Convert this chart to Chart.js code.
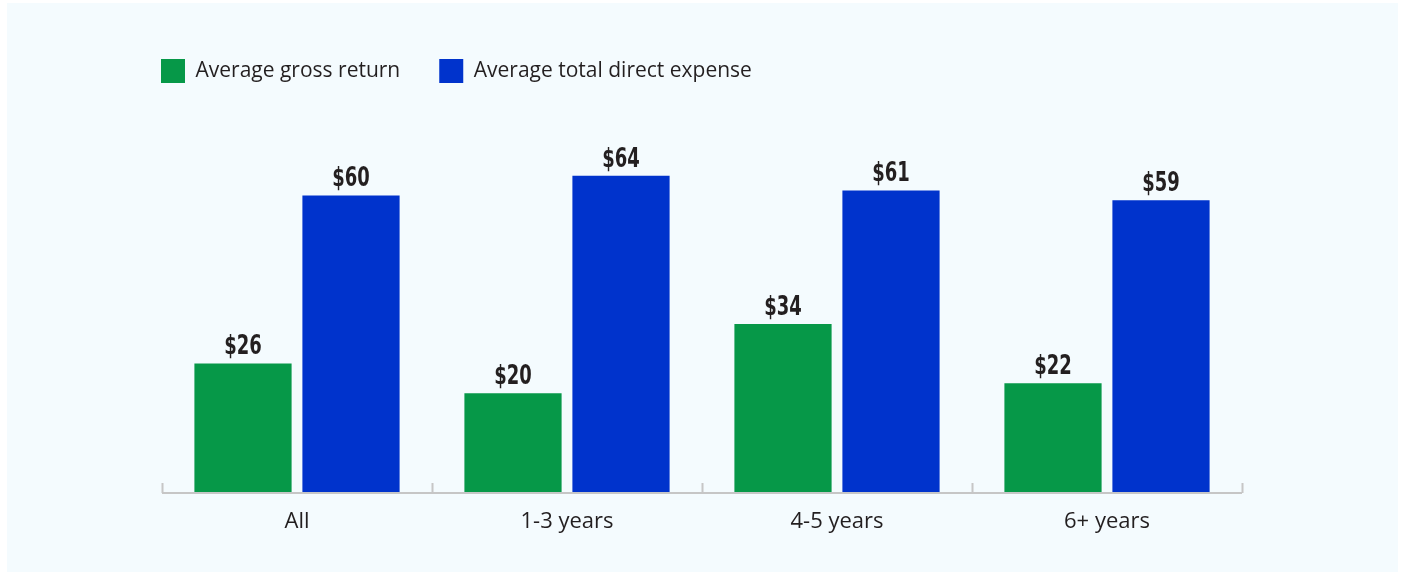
<!DOCTYPE html>
<html>
<head>
<meta charset="utf-8">
<script src="https://cdn.jsdelivr.net/npm/chart.js@4.4.1/dist/chart.umd.min.js"></script>
<style>
  html, body { margin: 0; padding: 0; background: #ffffff; }
  #wrap {
    position: absolute; left: 7px; top: 3px;
    width: 1391px; height: 569px;
    background: #f4fbfe;
  }
</style>
</head>
<body>
<div id="wrap"><canvas id="barChart"></canvas></div>
<script>
var categories = ['All', '1-3 years', '4-5 years', '6+ years'];
var grossReturn = [26, 20, 34, 22];
var directExpense = [60, 64, 61, 59];
var seriesNames = ['Average gross return', 'Average total direct expense'];

var textColor = '#231f20';
var axisColor = '#c6c6c6';

// extra space under the legend
const legendMargin = {
  id: 'legendMargin',
  beforeInit(chart) {
    const fitValue = chart.legend.fit;
    chart.legend.fit = function fit() {
      fitValue.bind(chart.legend)();
      this.height += 53;
    };
  }
};

// dollar labels above each bar, in a narrow heavy face
const valueLabels = {
  id: 'valueLabels',
  afterDatasetsDraw(chart) {
    const ctx = chart.ctx;
    ctx.save();
    ctx.fillStyle = textColor;
    ctx.font = "bold 27px 'DejaVu Sans Condensed', sans-serif";
    ctx.textAlign = 'center';
    ctx.textBaseline = 'alphabetic';
    chart.data.datasets.forEach(function (ds, di) {
      chart.getDatasetMeta(di).data.forEach(function (bar, i) {
        const txt = '$' + ds.data[i];
        ctx.save();
        ctx.translate(bar.x, bar.y - 9);
        ctx.scale(0.74, 1);
        ctx.fillText(txt, 0, 0);
        ctx.restore();
      });
    });
    ctx.restore();
  }
};

// baseline with short upward ticks between categories
const axisLine = {
  id: 'axisLine',
  afterDatasetsDraw(chart) {
    const ctx = chart.ctx;
    const a = chart.chartArea;
    const n = categories.length;
    const step = (a.right - a.left) / n;
    ctx.save();
    ctx.strokeStyle = axisColor;
    ctx.lineWidth = 2;
    ctx.beginPath();
    ctx.moveTo(a.left, a.bottom + 1);
    ctx.lineTo(a.right, a.bottom + 1);
    for (let i = 0; i <= n; i++) {
      const x = Math.round(a.left + i * step) + 0.5;
      ctx.moveTo(x, a.bottom + 1);
      ctx.lineTo(x, a.bottom - 9);
    }
    ctx.stroke();
    ctx.restore();
  }
};

const config = {
  type: 'bar',
  data: {
    labels: categories,
    datasets: [
      {
        label: seriesNames[0],
        data: grossReturn,
        backgroundColor: '#069848',
        borderWidth: 0
      },
      {
        label: seriesNames[1],
        data: directExpense,
        backgroundColor: '#0033cc',
        borderWidth: 0
      }
    ]
  },
  options: {
    responsive: true,
    maintainAspectRatio: false,
    animation: false,
    categoryPercentage: 0.8,
    barPercentage: 0.9,
    layout: {
      padding: { left: 115, right: 156, top: 17, bottom: 0 }
    },
    plugins: {
      legend: {
        position: 'top',
        align: 'start',
        labels: {
          boxWidth: 24,
          boxHeight: 24,
          padding: 39,
          color: textColor,
          font: { family: "'Open Sans', sans-serif", size: 21 }
        }
      },
      tooltip: { enabled: false }
    },
    scales: {
      x: {
        grid: { display: false },
        border: { display: false },
        ticks: {
          color: textColor,
          padding: 9,
          font: { family: "'Open Sans', sans-serif", size: 22 }
        },
        afterFit(scale) { scale.height = 80; }
      },
      y: {
        min: 0,
        max: 70,
        grid: { display: false },
        border: { display: false },
        ticks: { display: false },
        afterFit(scale) { scale.width = 40; }
      }
    }
  },
  plugins: [legendMargin, valueLabels, axisLine]
};

new Chart(document.getElementById('barChart'), config);
</script>
</body>
</html>
